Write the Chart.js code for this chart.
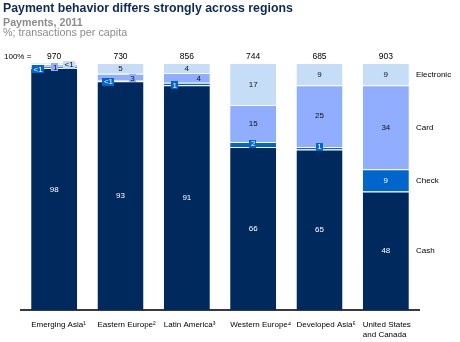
<!DOCTYPE html>
<html>
<head>
<meta charset="utf-8">
<script src="https://cdn.jsdelivr.net/npm/chart.js@4.4.1/dist/chart.umd.min.js"></script>
<style>
  body { margin: 0; background: #fff; font-family: "Liberation Sans", Arial, sans-serif; }
  #wrap { position: relative; width: 460px; height: 342px; overflow: hidden; }
  #chart { position: absolute; left: 0; top: 0; }
  .txt { position: absolute; left: 3px; white-space: nowrap; }
  #title { top: 2px; font-size: 12.3px; line-height: 12.3px; font-weight: bold; color: #0b2a5b; }
  #sub1 { top: 17px; font-size: 10.7px; line-height: 10.7px; font-weight: bold; color: #8c8c8c; }
  #sub2 { top: 26.5px; font-size: 10.8px; line-height: 10.8px; color: #8c8c8c; }
</style>
</head>
<body>
<div id="wrap">
  <canvas id="chart" width="460" height="342"></canvas>
  <div class="txt" id="title">Payment behavior differs strongly across regions</div>
  <div class="txt" id="sub1">Payments, 2011</div>
  <div class="txt" id="sub2">%; transactions per capita</div>
</div>
<script>
// ================== DATA ==================
const categories = [
    ['Emerging Asia¹'],
    ['Eastern Europe²'],
    ['Latin America³'],
    ['Western Europe⁴'],
    ['Developed Asia⁵'],
    ['United States', 'and Canada']
];
const totals = ['970', '730', '856', '744', '685', '903'];

const seriesNames = ['Cash', 'Check', 'Card', 'Electronic'];
const cash       = [98, 92.6, 91, 66, 65, 48];
const check      = [0.5, 0.4, 1, 2, 1, 9];
const card       = [1, 2.6, 4, 15, 25, 34];
const electronic = [0.5, 4.4, 4, 17, 9, 9];

const cashLabels       = ['98', '93', '91', '66', '65', '48'];
const checkLabels      = ['<1', '<1', '1', '2', '1', '9'];
const cardLabels       = ['1', '3', '4', '15', '25', '34'];
const electronicLabels = ['<1', '5', '4', '17', '9', '9'];

// ================== STYLE ==================
const colors     = ['#002a5e', '#0066cc', '#91aefe', '#c6ddf8'];
const textColors = ['#ffffff', '#ffffff', '#111111', '#111111'];
const FONT = '"Liberation Sans", Arial, sans-serif';

// nudges for labels of thin segments (dx, dy in px, boxed or not)
const placement = [
    null,
    { dx: [-16, -12, -12, 0, 0, 0], dy: [2, 1, 1, -1, -1.5, 0], box: [1, 1, 1, 1, 1, 0] },
    { dx: [1, 12, 12, 0, 0, 0],     dy: [1.5, 1, 0, 0, -1, 0],  box: [1, 1, 0, 0, 0, 0] },
    { dx: [15, 0, 0, 0, 0, 0],      dy: [1, 0, 0, 0, 0, 0],     box: [1, 0, 0, 0, 0, 0] }
];
const segLabels = [cashLabels, checkLabels, cardLabels, electronicLabels];

// ================== LABEL PLUGIN ==================
const labelPlugin = {
    id: 'labels',
    afterDatasetsDraw(chart) {
        const ctx = chart.ctx;
        ctx.save();
        ctx.font = '8px ' + FONT;
        ctx.textAlign = 'center';
        ctx.textBaseline = 'middle';

        chart.data.datasets.forEach((ds, i) => {
            const meta = chart.getDatasetMeta(i);
            meta.data.forEach((bar, j) => {
                const p = placement[i];
                const x = bar.x + (p ? p.dx[j] : 0);
                const y = (bar.y + bar.base) / 2 + (p ? p.dy[j] : 0);
                const txt = segLabels[i][j];
                if (p && p.box[j]) {
                    const w = ctx.measureText(txt).width + 3;
                    ctx.fillStyle = colors[i];
                    ctx.fillRect(Math.round(x - w / 2), Math.round(y - 4), Math.round(w), 8);
                }
                ctx.fillStyle = textColors[i];
                ctx.fillText(txt, x, y + 0.5);
            });
        });

        // series names next to the last bar
        const last = categories.length - 1;
        ctx.textAlign = 'left';
        ctx.fillStyle = '#000';
        chart.data.datasets.forEach((ds, i) => {
            const bar = chart.getDatasetMeta(i).data[last];
            ctx.fillText(ds.label, 416, (bar.y + bar.base) / 2 + 0.5);
        });

        // totals
        const top = chart.getDatasetMeta(0).data;
        ctx.textBaseline = 'alphabetic';
        ctx.font = '8.5px ' + FONT;
        ctx.textAlign = 'center';
        top.forEach((bar, j) => ctx.fillText(totals[j], bar.x, 58.5));
        ctx.font = '8px ' + FONT;
        ctx.textAlign = 'left';
        ctx.fillText('100% =', 4, 58.5);

        // category names, left aligned on the bar
        top.forEach((bar, j) => {
            const left = bar.x - bar.width / 2;
            categories[j].forEach((line, k) => ctx.fillText(line, left, 327 + k * 9.5));
        });
        ctx.restore();
    }
};

// ================== CHART ==================
const seriesData = [cash, check, card, electronic];

new Chart(document.getElementById('chart'), {
    type: 'bar',
    data: {
        labels: categories.map(c => c.join(' ')),
        datasets: seriesNames.map((name, i) => ({
            label: name,
            data: seriesData[i],
            backgroundColor: colors[i],
            borderColor: '#ffffff',
            borderWidth: { top: 1, left: 0, right: 0, bottom: 0 },
            borderSkipped: false,
            categoryPercentage: 1,
            barPercentage: 0.694
        }))
    },
    options: {
        responsive: false,
        devicePixelRatio: 1,
        animation: false,
        layout: { padding: { left: 21, right: 41, top: 63, bottom: 32 } },
        plugins: {
            legend: { display: false },
            tooltip: { enabled: false }
        },
        scales: {
            x: {
                stacked: true,
                grid: { display: false },
                ticks: { display: false },
                border: { display: true, color: '#3a3a3a', width: 2 },
                afterFit: s => { s.height = 0; }
            },
            y: {
                stacked: true,
                display: false,
                min: 0,
                max: 100
            }
        }
    },
    plugins: [labelPlugin]
});
</script>
</body>
</html>
